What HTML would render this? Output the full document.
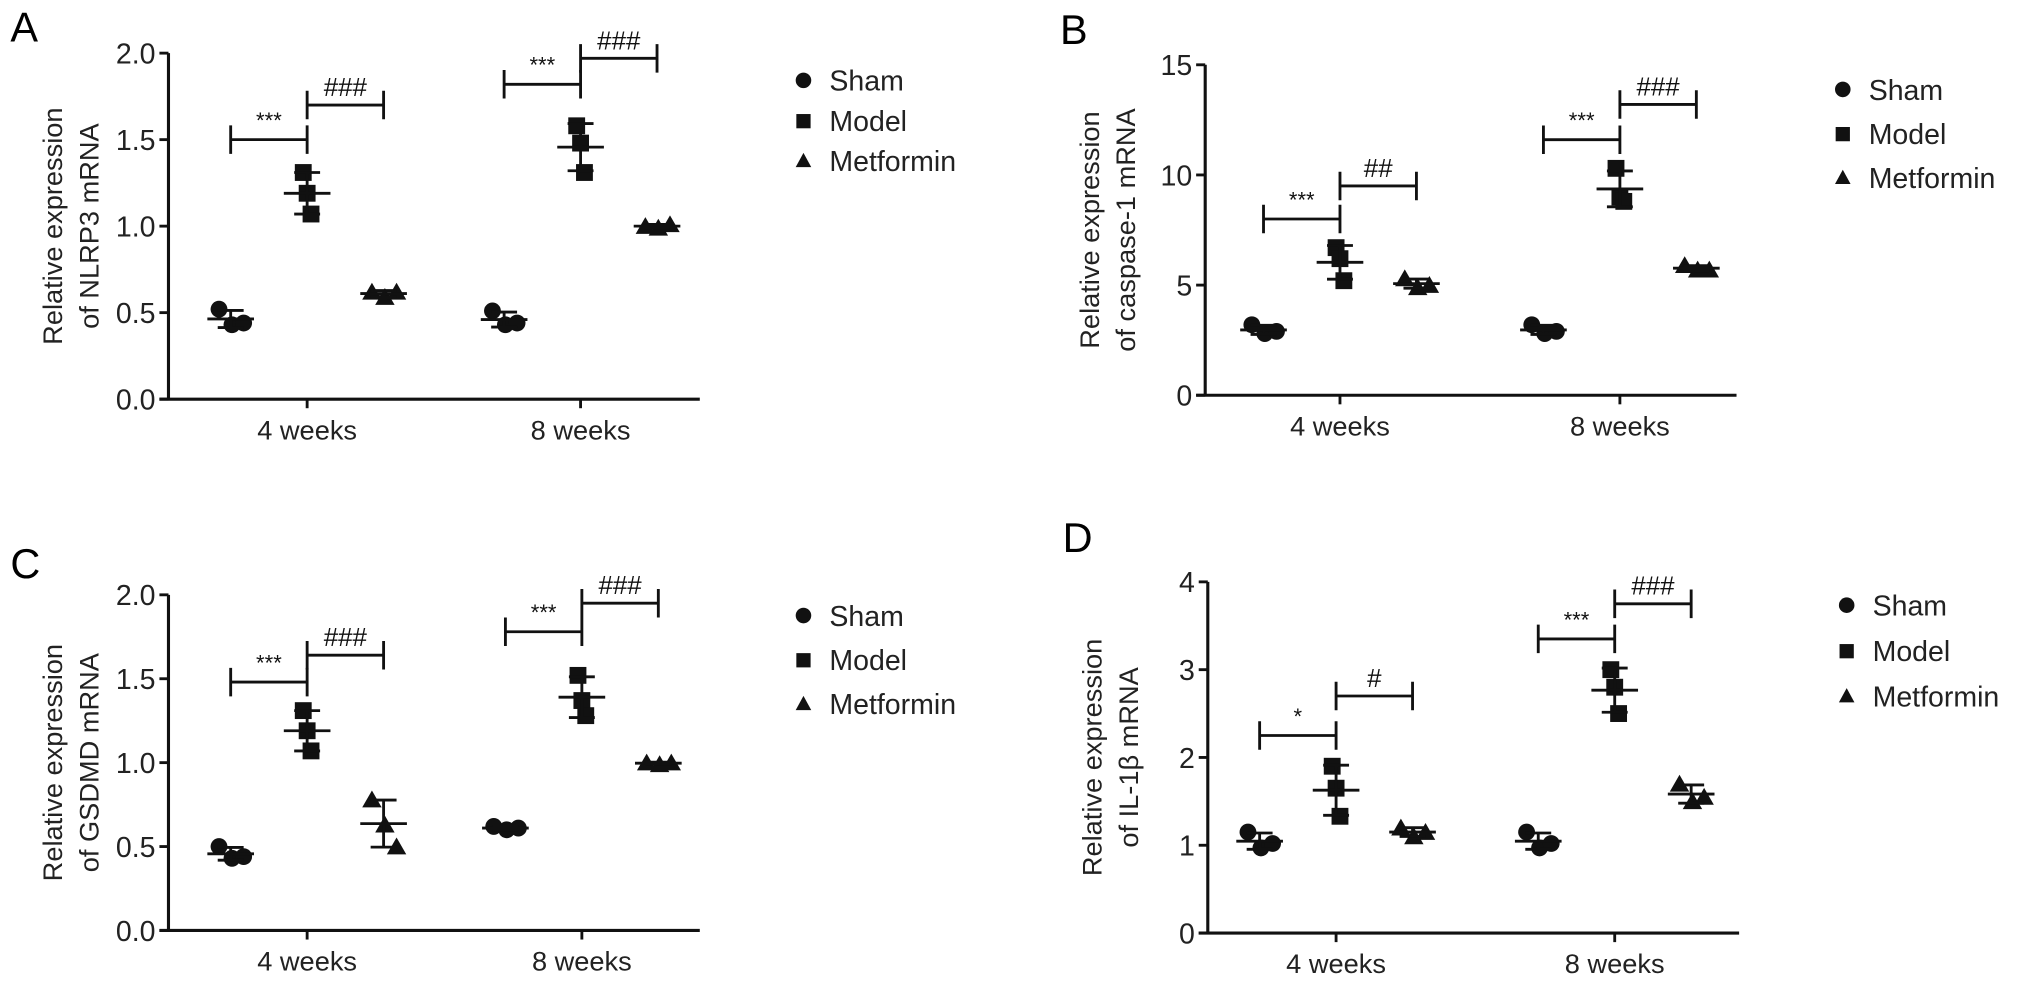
<!DOCTYPE html>
<html><head><meta charset="utf-8"><style>
html,body{margin:0;padding:0;background:#fff;}
svg{display:block;font-family:"Liberation Sans",Arial,sans-serif;}
</style></head><body>
<svg id="fig" width="2032" height="988" viewBox="0 0 1568 762.4" xmlns="http://www.w3.org/2000/svg"></svg>
<script>
const groups = ["4 weeks","8 weeks"];
const seriesNames = ["Sham","Model","Metformin"];
// panel A NLRP3
const aSham = [[0.52,0.43,0.44],[0.51,0.43,0.44]];
const aModel = [[1.31,1.19,1.07],[1.58,1.48,1.31]];
const aMet = [[0.62,0.59,0.62],[1.0,0.99,1.01]];
const aTicks = ["0.0","0.5","1.0","1.5","2.0"];
const aSig = [["***",1.5,"###",1.7],["***",1.82,"###",1.97]];
// panel B caspase-1
const bSham = [[3.2,2.8,2.9],[3.2,2.8,2.9]];
const bModel = [[6.7,6.2,5.2],[10.3,9.0,8.8]];
const bMet = [[5.3,4.9,5.0],[5.9,5.7,5.7]];
const bTicks = ["0","5","10","15"];
const bSig = [["***",8.0,"##",9.5],["***",11.6,"###",13.2]];
// panel C GSDMD
const cSham = [[0.5,0.43,0.44],[0.62,0.60,0.61]];
const cModel = [[1.31,1.19,1.07],[1.52,1.37,1.28]];
const cMet = [[0.78,0.63,0.5],[1.0,0.99,1.0]];
const cTicks = ["0.0","0.5","1.0","1.5","2.0"];
const cSig = [["***",1.48,"###",1.64],["***",1.78,"###",1.95]];
// panel D IL-1β
const dSham = [[1.15,0.97,1.02],[1.15,0.97,1.02]];
const dModel = [[1.9,1.65,1.33],[3.0,2.8,2.5]];
const dMet = [[1.2,1.1,1.15],[1.7,1.5,1.55]];
const dTicks = ["0","1","2","3","4"];
const dSig = [["*",2.25,"#",2.7],["***",3.35,"###",3.75]];

const NS="http://www.w3.org/2000/svg";
const svg=document.getElementById('fig');
function mk(tag,attrs,parent,text){const e=document.createElementNS(NS,tag);for(const k in attrs)e.setAttribute(k,attrs[k]);if(text!==undefined)e.textContent=text;(parent||svg).appendChild(e);return e;}
function mean(a){return a.reduce((s,v)=>s+v,0)/a.length;}
function sd(a){const m=mean(a);return Math.sqrt(a.reduce((s,v)=>s+(v-m)*(v-m),0)/(a.length-1));}

function panel(cfg){
  const g=mk('g',{});
  
  
  const ymax=parseFloat(cfg.ticks[cfg.ticks.length-1]);
  const Y=v=>cfg.y0-(v/ymax)*(cfg.y0-cfg.ytop);
  const X=(gi,si)=>cfg.gx[gi]+(si-1)*59;
  const lab=mk('text',{x:cfg.lx,y:cfg.ly,'font-size':32},g,cfg.id);
  
  
  const ya=mk('line',{x1:cfg.ax,y1:cfg.ytop,x2:cfg.ax,y2:cfg.y0,stroke:'#111','stroke-width':2.4},g);
  
  
  const xa=mk('line',{x1:cfg.ax-7,y1:cfg.y0,x2:cfg.ax+410,y2:cfg.y0,stroke:'#111','stroke-width':2.4},g);
  
  
  cfg.ticks.forEach(t=>{const v=parseFloat(t);
    mk('line',{x1:cfg.ax-7,y1:Y(v),x2:cfg.ax,y2:Y(v),stroke:'#111','stroke-width':2.2},g);
    const tl=mk('text',{x:cfg.ax-10,y:Y(v)+8,'font-size':22,'text-anchor':'end',fill:'#222'},g,t);
    
    
  });
  groups.forEach((gn,gi)=>{
    mk('line',{x1:cfg.gx[gi],y1:cfg.y0,x2:cfg.gx[gi],y2:cfg.y0+7,stroke:'#111','stroke-width':2.2},g);
    const xl=mk('text',{x:cfg.gx[gi],y:cfg.y0+31,'font-size':21,'text-anchor':'middle',fill:'#222'},g,gn);
    
    
  });
  const yt=mk('text',{transform:`translate(${cfg.ax-82},${(cfg.y0+cfg.ytop)/2}) rotate(-90)`,'font-size':21,'text-anchor':'middle',fill:'#222'},g);
  
  
  mk('tspan',{x:0,dy:0},yt,'Relative expression');
  mk('tspan',{x:0,dy:28},yt,cfg.ytitle);
  const ser=[cfg.sham,cfg.model,cfg.met];
  const offs=[[-9,1,10],[0,0,0],[-9,1,10]];
  const modelOffs=[-6,0,6];
  ser.forEach((s,si)=>{
    s.forEach((pts,gi)=>{
      const cx=X(gi,si);const m=mean(pts),d=sd(pts);
      pts.forEach((v,pi)=>{
        const px=cx+(si===1?modelOffs[pi]*0.5:offs[si][pi]);const py=Y(v);
        let e;
        if(si===0)e=mk('circle',{cx:px,cy:py,r:6.5,fill:'#111'},g);
        else if(si===1)e=mk('rect',{x:px-6.5,y:py-6.5,width:13,height:13,fill:'#111'},g);
        else e=mk('polygon',{points:`${px},${py-7} ${px-7.5},${py+6} ${px+7.5},${py+6}`,fill:'#111'},g);
        
        
      });
      const eb=mk('path',{d:`M${cx-18},${Y(m)}H${cx+18}M${cx},${Y(m+d)}V${Y(m-d)}M${cx-10},${Y(m+d)}H${cx+10}M${cx-10},${Y(m-d)}H${cx+10}`,stroke:'#111','stroke-width':2.2,fill:'none'},g);
      
      
    });
  });
  cfg.sig.forEach((s,gi)=>{
    [[0,1,s[0],s[1]],[1,2,s[2],s[3]]].forEach(b=>{
      const x1=X(gi,b[0]),x2=X(gi,b[1]),y=Y(b[3]);
      const br=mk('path',{d:`M${x1},${y-11}V${y+11}M${x1},${y}H${x2}M${x2},${y-11}V${y+11}`,stroke:'#111','stroke-width':2.2,fill:'none'},g);
      
      
      const st=b[2].startsWith('*');
      const t=mk('text',{x:(x1+x2)/2,y:st?y-9:y-7,'font-size':st?17:20,'text-anchor':'middle',fill:'#111'},g,b[2]);
      
      
    });
  });
  seriesNames.forEach((n,i)=>{
    const ly=cfg.legy+i*cfg.legdy, mx=cfg.legx;
    let e;
    if(i===0)e=mk('circle',{cx:mx,cy:ly-8,r:6,fill:'#111'},g);
    else if(i===1)e=mk('rect',{x:mx-5.5,y:ly-13,width:11,height:11,fill:'#111'},g);
    else e=mk('polygon',{points:`${mx},${ly-14} ${mx-6},${ly-3} ${mx+6},${ly-3}`,fill:'#111'},g);
    
    
    const t=mk('text',{x:mx+20,y:ly,'font-size':22,fill:'#222'},g,n);
    
    
  });
}
panel({id:'A',lx:8,ly:32,ax:130,ytop:41,y0:308,gx:[237,448],ticks:aTicks,sham:aSham,model:aModel,met:aMet,sig:aSig,ytitle:'of NLRP3 mRNA',legx:620,legy:70,legdy:31});
panel({id:'B',lx:818,ly:34,ax:930,ytop:50,y0:305,gx:[1034,1250],ticks:bTicks,sham:bSham,model:bModel,met:bMet,sig:bSig,ytitle:'of caspase-1 mRNA',legx:1422,legy:77,legdy:34});
panel({id:'C',lx:8,ly:446,ax:130,ytop:459,y0:718,gx:[237,449],ticks:cTicks,sham:cSham,model:cModel,met:cMet,sig:cSig,ytitle:'of GSDMD mRNA',legx:620,legy:483,legdy:34});
panel({id:'D',lx:820,ly:426,ax:932,ytop:449,y0:720,gx:[1031,1246],ticks:dTicks,sham:dSham,model:dModel,met:dMet,sig:dSig,ytitle:'of IL-1β mRNA',legx:1425,legy:475,legdy:35});
</script>
</body></html>
